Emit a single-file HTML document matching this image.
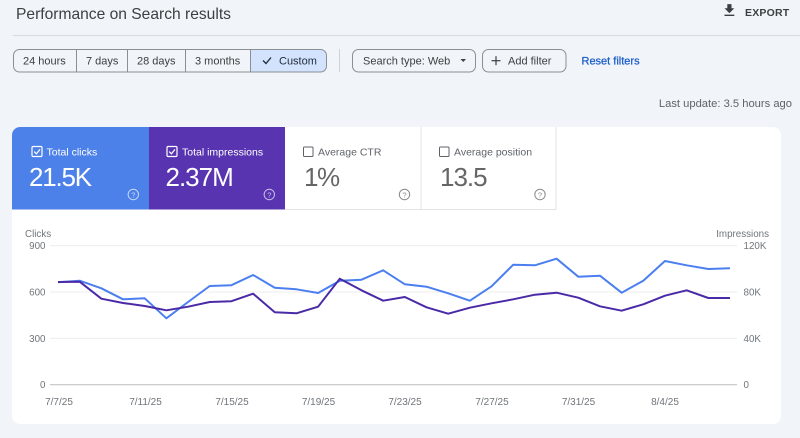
<!DOCTYPE html>
<html><head><meta charset="utf-8"><style>
html,body{margin:0;padding:0;background:#f1f4f8;}
svg{display:block;font-family:"Liberation Sans",Arial,sans-serif;}
</style></head><body>
<svg width="800" height="438" viewBox="0 0 800 438" xmlns="http://www.w3.org/2000/svg">
<rect x="0" y="0" width="800" height="438" fill="#f1f4f8"/>
<!-- header -->
<text x="16" y="19" font-size="15.6" fill="#3c4043">Performance on Search results</text>
<g transform="translate(721,2) scale(0.7)" fill="#3c4043"><path d="M19 9h-4V3H9v6H5l7 7 7-7zM5 18v2h14v-2H5z"/></g>
<text x="745" y="16" font-size="10.5" font-weight="bold" fill="#3c4043" letter-spacing="0.2">EXPORT</text>
<line x1="13" y1="35.5" x2="800" y2="35.5" stroke="#d8dadd" stroke-width="1"/>

<!-- segmented buttons -->
<path d="M250 49.5 H320.5 A6 6 0 0 1 326.5 55.5 V66 A6 6 0 0 1 320.5 72 H250 Z" fill="#d3e3fd"/>
<rect x="13.5" y="49.5" width="313" height="22.5" rx="6" fill="none" stroke="#8a8f94" stroke-width="1"/>
<g stroke="#8a8f94" stroke-width="1"><line x1="76.5" y1="49.5" x2="76.5" y2="72"/><line x1="127.5" y1="49.5" x2="127.5" y2="72"/><line x1="185.5" y1="49.5" x2="185.5" y2="72"/><line x1="250.5" y1="49.5" x2="250.5" y2="72"/></g>
<g font-size="11" fill="#3c4043">
<text x="23" y="64.6">24 hours</text>
<text x="86" y="64.6">7 days</text>
<text x="137" y="64.6">28 days</text>
<text x="195" y="64.6">3 months</text>
<text x="279" y="64.6" fill="#1f2a3a">Custom</text>
</g>
<path d="M263 60.5 L266 63.5 L271 57.5" fill="none" stroke="#1f2a3a" stroke-width="1.3"/>
<line x1="339.5" y1="49" x2="339.5" y2="72" stroke="#cfd2d6"/>
<rect x="352.5" y="49.5" width="123" height="22.5" rx="6" fill="none" stroke="#8a8f94"/>
<text x="363" y="64.6" font-size="11" fill="#3c4043">Search type: Web</text>
<path d="M460.5 59 L466 59 L463.25 62 Z" fill="#3c4043"/>
<rect x="482.5" y="49.5" width="83.5" height="22.5" rx="6" fill="none" stroke="#8a8f94"/>
<g stroke="#3c4043" stroke-width="1.2"><line x1="491.5" y1="60.7" x2="500.5" y2="60.7"/><line x1="496" y1="56.2" x2="496" y2="65.2"/></g>
<text x="508" y="64.6" font-size="11" fill="#3c4043">Add filter</text>
<text x="581.5" y="64.6" font-size="11" fill="#1a5cc8" stroke="#1a5cc8" stroke-width="0.25">Reset filters</text>
<text x="792" y="107" font-size="11.2" fill="#5f6368" text-anchor="end">Last update: 3.5 hours ago</text>

<!-- card -->
<rect x="12" y="127" width="769" height="297" rx="8" fill="#ffffff"/>
<path d="M12 135 A8 8 0 0 1 20 127 H149 V209.5 H12 Z" fill="#4c81ea"/>
<rect x="149" y="127" width="136" height="82.5" fill="#5934b0"/>
<g stroke="#e3e3e3" stroke-width="1"><line x1="421" y1="127" x2="421" y2="209.5"/><line x1="556" y1="127" x2="556" y2="209.5"/><line x1="285" y1="209.5" x2="556" y2="209.5"/></g>

<!-- tiles -->
<g>
<rect x="32" y="146.5" width="10" height="10" rx="1.2" fill="none" stroke="#fff" stroke-width="1.2"/>
<path d="M34.2 151.6 L36.4 153.8 L40 149.4" fill="none" stroke="#fff" stroke-width="1.2"/>
<text x="46.5" y="155.3" font-size="10.5" fill="#fff">Total clicks</text>
<text x="29" y="186" font-size="26" fill="#fff" letter-spacing="-1.2">21.5K</text>
<circle cx="133.3" cy="194.5" r="5.2" fill="none" stroke="#c9d8f8" stroke-width="1"/>
<text x="133.3" y="197.5" font-size="7.5" fill="#c9d8f8" text-anchor="middle">?</text>

<rect x="167" y="146.5" width="10" height="10" rx="1.2" fill="none" stroke="#fff" stroke-width="1.2"/>
<path d="M169.2 151.6 L171.4 153.8 L175 149.4" fill="none" stroke="#fff" stroke-width="1.2"/>
<text x="182" y="155.3" font-size="10.5" fill="#fff">Total impressions</text>
<text x="165.5" y="186" font-size="26" fill="#fff" letter-spacing="-1">2.37M</text>
<circle cx="269.3" cy="194.5" r="5.2" fill="none" stroke="#cbbfe8" stroke-width="1"/>
<text x="269.3" y="197.5" font-size="7.5" fill="#cbbfe8" text-anchor="middle">?</text>

<rect x="303.5" y="147" width="9.5" height="9.5" rx="1" fill="none" stroke="#5f6368" stroke-width="1"/>
<text x="318" y="155.3" font-size="10.5" fill="#5f6368">Average CTR</text>
<text x="304" y="186" font-size="26" fill="#666" letter-spacing="-1.5">1%</text>
<circle cx="404.5" cy="194.5" r="5.2" fill="none" stroke="#888" stroke-width="1"/>
<text x="404.5" y="197.5" font-size="7.5" fill="#888" text-anchor="middle">?</text>

<rect x="439.5" y="147" width="9.5" height="9.5" rx="1" fill="none" stroke="#5f6368" stroke-width="1"/>
<text x="454" y="155.3" font-size="10.5" fill="#5f6368">Average position</text>
<text x="440" y="186" font-size="26" fill="#666" letter-spacing="-1">13.5</text>
<circle cx="540" cy="194.5" r="5.2" fill="none" stroke="#888" stroke-width="1"/>
<text x="540" y="197.5" font-size="7.5" fill="#888" text-anchor="middle">?</text>
</g>

<!-- chart -->
<g stroke="#ececec" stroke-width="1">
<line x1="50" y1="245.7" x2="737" y2="245.7"/>
<line x1="50" y1="292" x2="737" y2="292"/>
<line x1="50" y1="338.3" x2="737" y2="338.3"/>
</g>
<line x1="50" y1="384.7" x2="737" y2="384.7" stroke="#c4c4c4" stroke-width="1.2"/>
<g font-size="9.8" fill="#70757a">
<text x="25" y="236.8">Clicks</text>
<text x="769" y="236.8" text-anchor="end">Impressions</text>
<text x="45.5" y="249.2" text-anchor="end">900</text>
<text x="45.5" y="295.5" text-anchor="end">600</text>
<text x="45.5" y="341.8" text-anchor="end">300</text>
<text x="45.5" y="388.2" text-anchor="end">0</text>
<text x="743.5" y="249.2">120K</text>
<text x="743.5" y="295.5">80K</text>
<text x="743.5" y="341.8">40K</text>
<text x="743.5" y="388.2">0</text>
</g>
<g font-size="10" fill="#70757a" text-anchor="middle">
<text x="59" y="405">7/7/25</text>
<text x="145.5" y="405">7/11/25</text>
<text x="232" y="405">7/15/25</text>
<text x="318.5" y="405">7/19/25</text>
<text x="405" y="405">7/23/25</text>
<text x="492" y="405">7/27/25</text>
<text x="578.5" y="405">7/31/25</text>
<text x="665" y="405">8/4/25</text>
</g>
<polyline fill="none" stroke="#4b7ff0" stroke-width="2" stroke-linejoin="round" points="58,282.3 79.68,280.7 101.35,288.3 123.03,299.3 144.71,298.3 166.39,318.3 188.06,302 209.74,286 231.42,285.2 253.1,275 274.77,287.7 296.45,289.3 318.13,293 339.81,280.7 361.48,279.7 383.16,270.3 404.84,284.3 426.52,286.7 448.19,293.3 469.87,300.7 491.55,286.3 513.23,264.7 534.9,265.3 556.58,258.7 578.26,276.7 599.94,275.7 621.61,292.7 643.29,280.7 664.97,261 686.65,265.3 708.32,269 730,268.3"/>
<polyline fill="none" stroke="#4a2aa6" stroke-width="2" stroke-linejoin="round" points="58,282 79.68,281.7 101.35,298.7 123.03,303 144.71,306 166.39,310.3 188.06,306.7 209.74,302 231.42,301.2 253.1,293.7 274.77,312.3 296.45,313.3 318.13,306.7 339.81,278.7 361.48,290.3 383.16,300.7 404.84,297 426.52,307.3 448.19,313.7 469.87,307.7 491.55,303.3 513.23,299.3 534.9,294.7 556.58,292.7 578.26,297.7 599.94,306.3 621.61,310.7 643.29,304.3 664.97,295.7 686.65,290.3 708.32,298 730,298"/>
</svg>
</body></html>
